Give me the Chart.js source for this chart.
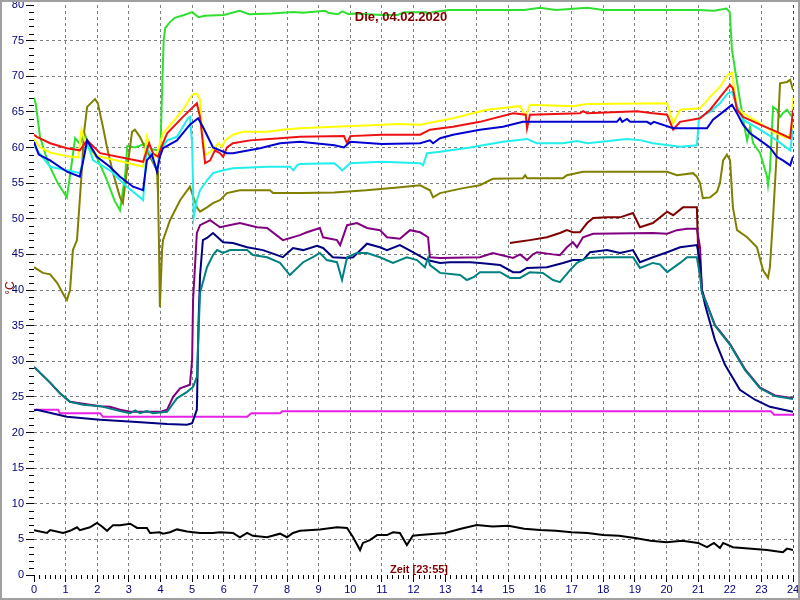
<!DOCTYPE html>
<html>
<head>
<meta charset="utf-8">
<title>Die, 04.02.2020</title>
<script src="https://cdn.jsdelivr.net/npm/chart.js@4.4.1/dist/chart.umd.min.js"></script>
<style>
  html, body { margin: 0; padding: 0; background: #fff; }
  canvas { display: block; }
</style>
</head>
<body>
<canvas id="chart" width="800" height="600"></canvas>
<script>
// tick labels
const hourTicks = [0, 1, 2, 3, 4, 5, 6, 7, 8, 9, 10, 11, 12, 13, 14, 15, 16, 17, 18, 19, 20, 21, 22, 23, 24];
const tempTicks = [0, 5, 10, 15, 20, 25, 30, 35, 40, 45, 50, 55, 60, 65, 70, 75, 80];

// series: hour of day / temperature in °C
const greenT = [0, 0.06, 0.19, 0.45, 0.75, 1.04, 1.2, 1.3, 1.45, 1.6, 1.75, 2.0, 2.3, 2.55, 2.72, 2.88, 2.95, 3.2, 3.5, 3.7, 3.9, 4.0, 4.05, 4.1, 4.15, 4.3, 4.45, 4.75, 5.0, 5.2, 5.4, 6.0, 6.5, 6.8, 7.5, 8.2, 8.5, 9.2, 9.3, 9.6, 9.75, 9.95, 10.1, 11.0, 11.5, 11.7, 12.4, 12.45, 12.6, 12.95, 13.1, 15.5, 16.0, 16.5, 17.5, 18.0, 21.0, 21.5, 21.9, 22.0, 22.07, 22.17, 22.32, 22.48, 22.55, 22.64, 22.74, 22.96, 23.18, 23.21, 23.27, 23.37, 23.49, 23.59, 23.68, 23.81, 23.97];
const greenV = [67, 66, 61.5, 57.8, 55, 53, 58, 61.3, 60.5, 62, 60, 58.5, 55.5, 52.5, 51.2, 56, 60.2, 60, 60.5, 59.8, 59.6, 60, 68, 75, 76.8, 77.6, 78.2, 78.6, 79, 78.3, 78.5, 78.6, 79.2, 78.7, 78.8, 79, 78.9, 79.2, 78.9, 78.7, 79.1, 78.7, 78.8, 78.6, 78.6, 79, 79, 78.7, 79, 79.2, 79.3, 79.3, 79.6, 79.3, 79.6, 79.3, 79.3, 79.2, 79.5, 79, 73.7, 70.9, 66.7, 62.5, 61, 62.9, 60.6, 59.2, 55.9, 54.7, 56.8, 65.7, 65.3, 64.3, 64.8, 65.3, 64.3];

const yellowT = [0, 0.2, 0.5, 1.0, 1.4, 1.5, 1.6, 1.8, 2.1, 3.0, 3.45, 3.57, 3.67, 3.83, 3.92, 4.08, 4.36, 4.71, 5.0, 5.15, 5.25, 5.31, 5.41, 5.57, 5.72, 5.82, 5.94, 6.04, 6.29, 6.61, 7.37, 7.87, 8.41, 9.5, 10.5, 11.5, 12.21, 13.25, 14.32, 15.37, 15.55, 15.68, 17.04, 17.49, 20.02, 20.21, 20.43, 21.06, 21.38, 21.69, 21.94, 22.07, 22.1, 22.23, 22.42, 22.96, 23.37, 23.84, 23.97, 24.0];
const yellowV = [61.2, 60, 59.3, 58.8, 58.6, 62.5, 61, 59.2, 58.7, 57.8, 57.3, 61.5, 60, 58.7, 59.6, 62, 63.4, 65.3, 67.4, 67.6, 66.7, 62.9, 58.9, 59.4, 60, 60.6, 60.1, 61, 61.8, 62.2, 62.2, 62.5, 62.7, 62.9, 63.1, 63.3, 63.2, 64.1, 65.3, 65.8, 64.3, 66, 65.8, 66.1, 66.2, 63.4, 65.3, 65.5, 67.1, 68.5, 70.2, 70.5, 69.5, 65.7, 64.8, 63.4, 62.2, 61.3, 62.5, 67];

const redT = [0, 0.09, 0.51, 1.04, 1.45, 1.68, 2.09, 3.45, 3.64, 3.76, 3.92, 4.08, 4.21, 4.71, 5.15, 5.25, 5.41, 5.57, 5.72, 5.88, 5.98, 6.1, 6.29, 6.83, 7.78, 8.41, 9.8, 9.9, 10.0, 11.0, 12.21, 12.52, 13.25, 14.1, 15.15, 15.55, 15.59, 15.68, 17.26, 17.36, 17.49, 19.07, 19.57, 20.02, 20.21, 20.43, 21.06, 21.38, 21.79, 22.01, 22.1, 22.23, 22.42, 22.96, 23.49, 23.91, 24.0];
const redV = [61.8, 61.5, 60.6, 59.9, 59.6, 61, 59.2, 58, 60.6, 59.2, 58.7, 60.6, 62, 64.3, 66.2, 64.3, 57.8, 58.2, 59.6, 59.2, 58.7, 60, 60.6, 61, 61.3, 61.5, 61.6, 60.6, 61.6, 61.8, 61.8, 62.5, 62.9, 63.6, 64.8, 64.6, 62.7, 64.6, 64.8, 65.1, 64.8, 65.1, 64.8, 64.6, 62.5, 63.6, 64.1, 65.3, 67.6, 68.8, 68.3, 65.3, 64.3, 63.2, 62.2, 61.3, 65.3];

const blueT = [0, 0.15, 0.51, 1.04, 1.45, 1.55, 1.68, 1.99, 2.4, 2.72, 3.13, 3.45, 3.57, 3.73, 3.89, 3.98, 4.08, 4.52, 4.93, 5.19, 5.34, 5.66, 6.1, 6.29, 7.15, 7.78, 8.41, 9.5, 9.8, 10.0, 11.0, 12.21, 12.52, 12.62, 12.84, 13.25, 14.1, 14.83, 15.46, 18.43, 18.53, 18.6, 18.75, 18.85, 19.38, 19.5, 19.6, 20.21, 20.96, 21.28, 21.47, 21.79, 22.07, 22.23, 22.42, 22.64, 22.96, 23.27, 23.49, 23.68, 23.91, 24.0];
const blueV = [60.8, 59, 58.2, 56.6, 55.9, 58, 61, 58.7, 57.3, 55.9, 54.5, 54, 58.2, 59, 56.6, 58.7, 59.9, 61, 63.2, 64.1, 62.9, 60, 59.2, 59.2, 59.9, 60.6, 60.8, 60.3, 60, 60.8, 60.5, 60.6, 61, 60.6, 61.3, 61.8, 62.5, 62.9, 63.6, 63.6, 64.1, 63.6, 64, 63.6, 63.6, 63.3, 63.6, 62.7, 62.7, 62.7, 63.9, 65, 66, 64.8, 63.2, 62, 61, 60, 58.7, 58.2, 57.5, 58.7];

const cyanT = [0, 0.1, 0.51, 1.04, 1.45, 1.68, 1.87, 2.4, 2.94, 3.35, 3.45, 3.57, 3.7, 3.89, 3.98, 4.21, 4.52, 4.87, 4.93, 5.0, 5.05, 5.15, 5.25, 5.47, 5.66, 5.98, 6.29, 7.37, 8.1, 8.2, 8.32, 8.41, 9.5, 9.75, 10.0, 11.0, 12.21, 12.3, 12.43, 12.84, 13.79, 14.83, 15.59, 15.9, 16.73, 17.17, 17.5, 18.75, 19.2, 19.57, 20.43, 20.96, 21.03, 21.38, 21.69, 21.94, 22.07, 22.23, 22.42, 22.96, 23.49, 23.91, 24.0];
const cyanV = [60.3, 59.6, 57.3, 56.8, 56.4, 60.6, 58.2, 56.8, 54.5, 53, 52.6, 59.9, 59, 56.8, 59.6, 61, 61.5, 64.1, 64.3, 60.6, 50.2, 52.6, 54, 55.4, 56.4, 56.8, 57.1, 57.3, 57.3, 56.8, 57.5, 57.7, 57.8, 56.8, 57.8, 58, 57.8, 57.5, 59.2, 59.4, 60, 60.8, 61.2, 60.6, 60.6, 60.9, 60.6, 61.2, 61, 60.6, 60.1, 60.3, 64.2, 65, 66.2, 67.6, 67.8, 65.7, 63.9, 62.5, 61, 59.6, 62.5];

const oliveT = [0, 0.28, 0.51, 0.73, 0.98, 1.04, 1.14, 1.23, 1.36, 1.5, 1.58, 1.68, 1.93, 2.02, 2.18, 2.31, 2.5, 2.72, 2.81, 2.94, 3.1, 3.19, 3.35, 3.51, 3.67, 3.89, 3.92, 3.95, 3.98, 4.05, 4.08, 4.3, 4.62, 4.93, 5.15, 5.25, 5.47, 5.66, 5.88, 6.1, 6.51, 7.46, 7.56, 8.41, 9.5, 10.5, 11.5, 12.21, 12.52, 12.62, 12.84, 13.57, 14.1, 14.51, 15.46, 15.53, 15.59, 16.73, 16.85, 17.36, 20.02, 20.33, 20.84, 20.96, 21.06, 21.15, 21.38, 21.6, 21.69, 21.79, 21.91, 22.01, 22.1, 22.23, 22.55, 22.86, 23.05, 23.21, 23.27, 23.37, 23.49, 23.59, 23.81, 23.91, 24.0];
const oliveV = [43.2, 42.4, 42.2, 41, 39, 38.6, 40, 45.6, 47, 56, 62, 65.7, 66.8, 66.2, 62.9, 60, 56.4, 53, 52.2, 56.8, 62.2, 62.5, 61.5, 60, 58.7, 56.8, 53.6, 47, 37.6, 45.6, 47, 49.8, 52.6, 54.5, 51.6, 51, 51.6, 52.2, 52.6, 53.6, 54, 54, 53.6, 53.6, 53.7, 54, 54.4, 54.7, 54, 53, 53.6, 54.3, 54.7, 55.6, 55.7, 56.1, 55.7, 55.7, 56.1, 56.6, 56.6, 56.1, 56.4, 55.9, 55, 52.9, 53, 53.8, 55, 58.2, 59, 58.2, 51.6, 48.4, 47.4, 46, 42.8, 41.7, 43.2, 50.2, 59.6, 69, 69.2, 69.5, 68.1];

const maroonT = [15.05, 15.37, 15.68, 16.22, 16.63, 16.85, 17.04, 17.26, 17.49, 17.68, 18.12, 18.53, 18.94, 19.16, 19.57, 20.02, 20.21, 20.52, 20.96, 21.0, 21.06];
const maroonV = [46.6, 46.8, 47, 47.4, 48, 48.4, 48.1, 48.1, 49.4, 50.1, 50.2, 50.2, 50.8, 48.8, 49.4, 51, 50.5, 51.6, 51.6, 45.6, 41.8];

const purpleT = [0, 0.51, 0.82, 1.14, 1.45, 2.09, 2.4, 2.72, 3.04, 3.98, 4.21, 4.4, 4.62, 4.93, 5.0, 5.03, 5.15, 5.25, 5.57, 5.88, 6.51, 7.05, 7.37, 7.87, 8.41, 8.63, 9.04, 9.14, 9.58, 9.68, 9.9, 10.21, 10.53, 10.94, 11.16, 11.57, 11.89, 12.21, 12.46, 12.52, 12.84, 14.1, 14.51, 15.15, 15.37, 15.59, 15.78, 15.91, 16.41, 16.63, 16.85, 17.04, 17.17, 17.36, 17.68, 19.57, 20.02, 20.33, 20.65, 20.96, 21.06, 21.12, 21.22, 21.53, 22.01, 22.48, 22.96, 23.43, 24.0];
const purpleV = [29.2, 27, 25.5, 24.3, 24.1, 23.7, 23.6, 23.2, 22.9, 22.9, 23.2, 25, 26.2, 26.7, 30.2, 38.6, 48, 49.1, 49.8, 48.8, 49.4, 48.8, 48.7, 47, 47.7, 48.1, 48.7, 47.4, 47, 46.3, 49.1, 49.4, 48.7, 48.4, 47.4, 47.2, 48.4, 48.1, 47.4, 44.6, 44.5, 44.6, 45.2, 44.5, 45, 44.2, 45, 45.3, 45, 44.9, 46, 46.7, 46, 47.4, 47.9, 48, 47.9, 48.4, 48.6, 48.6, 46, 40, 38.7, 35.1, 32.4, 28.9, 26.3, 25.2, 24.8];

const navyT = [0, 0.09, 1.04, 2.09, 3.13, 4.21, 4.84, 5.0, 5.15, 5.2, 5.25, 5.34, 5.47, 5.66, 5.98, 6.29, 6.74, 7.24, 7.87, 8.19, 8.51, 8.95, 9.14, 9.45, 9.9, 10.09, 10.53, 10.94, 11.16, 11.57, 11.98, 12.43, 12.84, 13.15, 13.79, 14.1, 14.74, 15.15, 15.37, 15.59, 16.22, 16.73, 17.04, 17.36, 17.58, 18.12, 18.53, 18.94, 19.16, 19.57, 20.02, 20.43, 20.96, 21.06, 21.12, 21.22, 21.53, 21.85, 22.32, 22.8, 23.27, 24.0];
const navyV = [23.1, 23.2, 22.2, 21.8, 21.5, 21.2, 21.1, 21.3, 23.2, 35, 42, 47, 47.3, 48, 46.7, 46.6, 46, 45.6, 44.6, 45.9, 45.6, 46.2, 45.9, 44.6, 44.5, 44.6, 46.5, 46, 45.6, 46.3, 45.3, 44.2, 43.8, 43.9, 43.9, 43.8, 43.5, 42.5, 42.5, 43.1, 43.2, 43.8, 44.2, 44.2, 45.3, 45.6, 45.2, 45.6, 43.9, 44.6, 45.3, 46, 46.3, 44, 40, 37.9, 33, 29.5, 26, 24.6, 23.6, 22.9];

const tealT = [0, 0.51, 0.82, 1.14, 1.55, 2.09, 2.72, 3.04, 3.2, 3.35, 3.57, 3.76, 4.21, 4.52, 4.84, 5.03, 5.15, 5.17, 5.25, 5.47, 5.66, 5.79, 5.98, 6.2, 6.74, 6.92, 7.37, 7.78, 8.09, 8.51, 8.82, 9.04, 9.26, 9.58, 9.74, 9.9, 10.21, 10.53, 10.94, 11.35, 11.79, 12.11, 12.36, 12.46, 12.52, 12.84, 13.47, 13.69, 13.9, 14.1, 14.74, 15.05, 15.37, 15.68, 16.09, 16.41, 16.63, 16.95, 17.17, 17.49, 18.12, 18.94, 19.16, 19.57, 19.79, 20.02, 20.43, 20.65, 20.96, 21.06, 21.12, 21.22, 21.53, 22.01, 22.48, 22.96, 23.43, 24.0];
const tealV = [29.2, 27, 25.5, 24.3, 23.9, 23.7, 23, 22.7, 23.1, 22.7, 23, 22.7, 22.9, 24.8, 25.7, 26.4, 27.8, 30.2, 39.6, 43.2, 44.9, 45.6, 45.2, 45.6, 45.6, 44.9, 44.6, 43.8, 42.1, 43.9, 44.6, 45.2, 44.2, 43.9, 41.4, 44.6, 45.2, 45.2, 44.6, 43.8, 44.6, 44.2, 43.2, 44.5, 43.5, 42.4, 42.1, 41.4, 41.8, 42.5, 42.5, 41.7, 41.7, 42.5, 42.4, 41.4, 41.1, 42.8, 43.8, 44.5, 44.6, 44.6, 43.1, 43.8, 43.6, 42.5, 43.8, 44.6, 44.6, 42, 39.5, 38.6, 35, 32.3, 28.8, 26.2, 25.1, 24.7];

const magentaT = [0, 0.76, 0.82, 2.09, 2.18, 6.74, 6.87, 7.78, 7.85, 23.3, 23.4, 24.0];
const magentaV = [23.2, 23.2, 22.7, 22.7, 22.2, 22.2, 22.7, 22.7, 23.0, 23.0, 22.5, 22.5];

const blackT = [0, 0.41, 0.51, 0.92, 1.14, 1.36, 1.45, 1.77, 1.99, 2.15, 2.31, 2.5, 2.72, 3.04, 3.26, 3.57, 3.67, 3.98, 4.08, 4.3, 4.52, 4.84, 5.03, 5.25, 5.66, 5.88, 6.29, 6.51, 6.74, 6.92, 7.37, 7.78, 8.0, 8.19, 8.41, 9.04, 9.58, 9.9, 10.09, 10.31, 10.4, 10.62, 10.85, 11.16, 11.35, 11.57, 11.79, 11.98, 12.2, 13.0, 13.5, 14.0, 14.5, 15.0, 15.5, 16.0, 16.5, 17.0, 17.5, 18.0, 18.5, 19.0, 19.5, 20.0, 20.5, 21.0, 21.28, 21.5, 21.69, 21.79, 22.1, 23.18, 23.68, 23.81, 24.0];
const blackV = [6.3, 5.9, 6.3, 5.9, 6.2, 6.7, 6.3, 6.7, 7.3, 6.8, 6.2, 7.0, 7.0, 7.2, 6.6, 6.6, 5.9, 6.0, 5.8, 6.0, 6.4, 6.1, 6.0, 5.9, 5.9, 6.0, 5.9, 5.3, 5.9, 5.5, 5.3, 5.8, 5.3, 5.9, 6.2, 6.4, 6.7, 6.6, 5.3, 3.5, 4.5, 4.9, 5.6, 5.6, 6.0, 5.9, 4.2, 5.5, 5.6, 5.9, 6.5, 7.0, 6.8, 6.9, 6.5, 6.3, 6.2, 6.0, 5.9, 5.6, 5.5, 5.2, 4.8, 4.6, 4.8, 4.5, 3.9, 4.5, 3.8, 4.5, 3.9, 3.5, 3.2, 3.7, 3.5];

const pts = (t, v) => t.map((h, i) => ({ x: h, y: v[i] }));

const tickFont = { family: '"Liberation Sans", Arial, sans-serif', size: 11 };

// small ticks every 10 min and every 1 °C, plus the frame and the captions
const decorations = {
  id: 'decorations',
  afterDraw(chart) {
    const { ctx, chartArea, scales } = chart;
    ctx.save();
    ctx.strokeStyle = '#000';
    ctx.lineWidth = 1;
    ctx.beginPath();
    for (let i = 1; i < 24 * 6; i++) {
      if (i % 6 === 0) continue;
      const px = Math.round(scales.x.getPixelForValue(i / 6)) + 0.5;
      ctx.moveTo(px, chartArea.bottom);
      ctx.lineTo(px, chartArea.bottom + 4);
    }
    for (let v = 1; v < 80; v++) {
      if (v % 5 === 0) continue;
      const py = Math.round(scales.y.getPixelForValue(v)) + 0.5;
      ctx.moveTo(chartArea.left - 5, py);
      ctx.lineTo(chartArea.left, py);
    }
    ctx.stroke();

    ctx.strokeStyle = '#a0a0a0';
    ctx.lineWidth = 2;
    ctx.strokeRect(1, 1, 798, 598);

    ctx.fillStyle = '#800000';
    ctx.textAlign = 'center';
    ctx.textBaseline = 'alphabetic';
    ctx.font = 'bold 13px "Liberation Sans", Arial, sans-serif';
    ctx.fillText('Die, 04.02.2020', 401, 21);
    ctx.font = 'bold 11px "Liberation Sans", Arial, sans-serif';
    ctx.fillText('Zeit [23:55]', 419, 573);
    ctx.translate(14, 288);
    ctx.rotate(-Math.PI / 2);
    ctx.font = '12px "Liberation Sans", Arial, sans-serif';
    ctx.fillText('°C', 0, 0);
    ctx.restore();
  }
};

const line = (label, t, v, color) => ({
  label,
  data: pts(t, v),
  borderColor: color,
  borderWidth: 2,
  pointRadius: 0,
  tension: 0,
  fill: false
});

new Chart(document.getElementById('chart'), {
  type: 'line',
  data: {
    datasets: [
      line('teal', tealT, tealV, '#008080'),
      line('navy', navyT, navyV, '#000080'),
      line('purple', purpleT, purpleV, '#800080'),
      line('maroon', maroonT, maroonV, '#800000'),
      line('magenta', magentaT, magentaV, '#e820e8'),
      line('black', blackT, blackV, '#000000'),
      line('blue', blueT, blueV, '#0000d0'),
      line('red', redT, redV, '#ee1111'),
      line('cyan', cyanT, cyanV, '#22eeee'),
      line('yellow', yellowT, yellowV, '#ffff00'),
      line('olive', oliveT, oliveV, '#808000'),
      line('green', greenT, greenV, '#30e030')
    ]
  },
  options: {
    responsive: false,
    animation: false,
    layout: { padding: { top: 5, right: 7, left: 0, bottom: 0 } },
    plugins: {
      legend: { display: false },
      tooltip: { enabled: false }
    },
    scales: {
      x: {
        type: 'linear',
        min: hourTicks[0],
        max: hourTicks[hourTicks.length - 1],
        afterFit: (axis) => { axis.height = 25; axis.paddingLeft = 0; axis.paddingRight = 0; },
        afterBuildTicks: (axis) => { axis.ticks = hourTicks.map((v) => ({ value: v })); },
        ticks: { color: '#000080', font: tickFont, padding: 1, maxRotation: 0, autoSkip: false },
        grid: {
          color: (c) => (c.tick.value === 0 ? 'rgba(0,0,0,0)' : c.tick.value === 24 ? '#008000' : '#808080'),
          lineWidth: 1,
          tickLength: 7,
          tickColor: '#000'
        },
        border: { display: false, dash: [3, 3] }
      },
      y: {
        min: tempTicks[0],
        max: tempTicks[tempTicks.length - 1],
        afterFit: (axis) => { axis.width = 34; axis.paddingTop = 0; axis.paddingBottom = 0; },
        afterBuildTicks: (axis) => { axis.ticks = tempTicks.map((v) => ({ value: v })); },
        ticks: { color: '#000080', font: tickFont, padding: 2 },
        grid: {
          color: (c) => (c.tick.value === 0 || c.tick.value === 80 ? 'rgba(0,0,0,0)' : '#808080'),
          lineWidth: 1,
          tickLength: 8,
          tickColor: '#000'
        },
        border: { display: false, dash: [3, 3] }
      }
    }
  },
  plugins: [decorations]
});
</script>
</body>
</html>
